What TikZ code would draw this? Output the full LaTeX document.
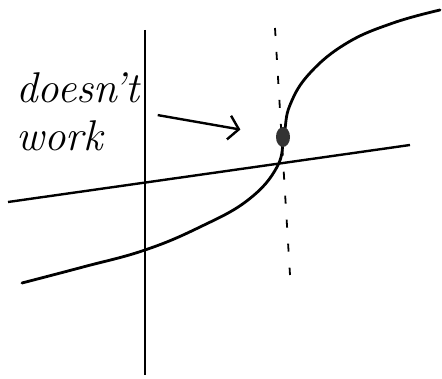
\documentclass[tikz,border=0pt]{standalone}
\usepackage{tikz}
\usetikzlibrary{arrows.meta, positioning, shapes.geometric}

\begin{document}
\begin{tikzpicture}[
        x=1pt, y=-1pt,
        axis/.style={line width=2.4pt, black},
        curve/.style={line width=2.8pt, black, line cap=round},
        guide/.style={line width=1.8pt, dash pattern=on 8pt off 16pt},
        arrow/.style={draw, line width=2.4pt, -{Straight Barb[length=10pt, width=24pt]}},
        blob/.style={ellipse, fill=black!80, minimum width=14pt, minimum height=20pt, inner sep=0pt},
        note/.style={font=\fontsize{43}{48}\selectfont\itshape, align=left, inner sep=0pt}
    ]
        \useasboundingbox (0,0) rectangle (442,379);
        % axes and guide
        \draw [axis] (145,30) -- (145,375);
        \draw [axis] (8,202) -- (410,145);
        \draw [guide] (275,28) -- (290,275);
        % the function
        \draw [curve] plot [smooth, tension=0.7] coordinates {(22,283) (83,267) (145,250) (200,227) (248,200) (277,167) (284,135) (290,105) (310,73) (347,43) (393,23) (440,10)};

        \node [blob] (point) at (283,137) {};
        \node [note, anchor=east] (label) at (140,112) {doesn't\\work};

        \draw [arrow, shorten <=18pt, shorten >=36pt] (label.east) -- (point);
\end{tikzpicture}
\end{document}
